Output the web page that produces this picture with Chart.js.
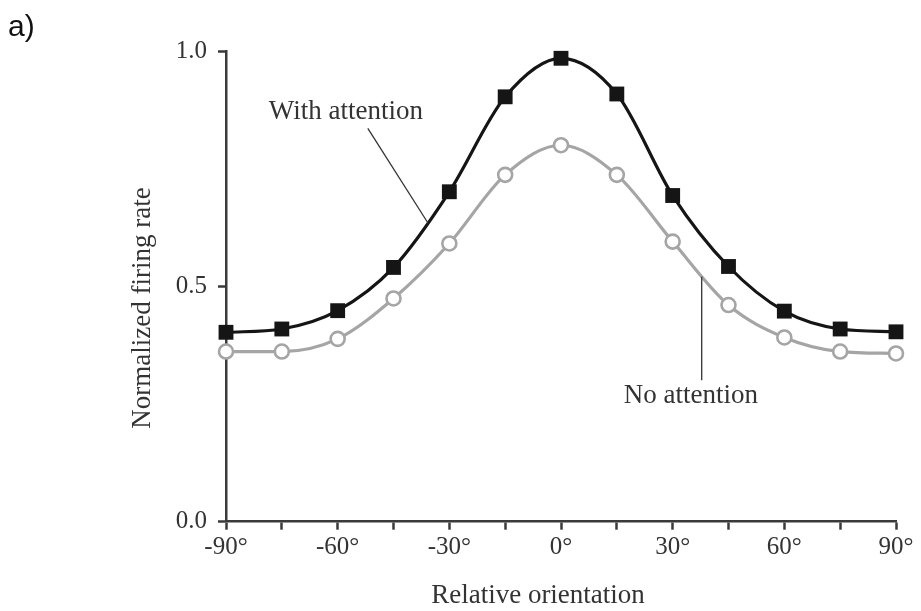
<!DOCTYPE html>
<html>
<head>
<meta charset="utf-8">
<script src="https://cdn.jsdelivr.net/npm/chart.js@4.4.1/dist/chart.umd.min.js"></script>
<style>
  html, body { margin: 0; padding: 0; background: #fff; }
  #chart { display: block; }
</style>
</head>
<body>
<canvas id="chart" width="921" height="611"></canvas>
<script>
// --- data ---
const orientations = [-90, -75, -60, -45, -30, -15, 0, 15, 30, 45, 60, 75, 90];
const withAttention = [0.403, 0.410, 0.449, 0.541, 0.702, 0.904, 0.986, 0.910, 0.694, 0.543, 0.448, 0.410, 0.404];
const noAttention = [0.362, 0.362, 0.389, 0.475, 0.592, 0.738, 0.801, 0.738, 0.596, 0.461, 0.392, 0.362, 0.358];
const yTicks = [0, 0.5, 1.0];
const xLabelEvery = 30;

const SERIF = '"Liberation Serif", "Times New Roman", serif';
const INK = '#333';

// callout labels, placed in data units
const callouts = [
    { text: 'With attention', at: [-57.8, 0.872], line: [[-51.9, 0.837], [-35.7, 0.635]] },
    { text: 'No attention', at: [34.9, 0.268], line: [[37.8, 0.521], [37.8, 0.301]] }
];

const overlay = {
    id: 'overlay',
    afterDraw(chart) {
        const { ctx, scales } = chart;
        const sx = scales.x, sy = scales.y;
        ctx.save();

        // callouts
        ctx.font = '27px ' + SERIF;
        ctx.fillStyle = INK;
        ctx.textAlign = 'center';
        ctx.textBaseline = 'middle';
        callouts.forEach(c => {
            ctx.fillText(c.text, sx.getPixelForValue(c.at[0]), sy.getPixelForValue(c.at[1]));
            ctx.beginPath();
            ctx.strokeStyle = INK;
            ctx.lineWidth = 1.3;
            ctx.moveTo(sx.getPixelForValue(c.line[0][0]), sy.getPixelForValue(c.line[0][1]));
            ctx.lineTo(sx.getPixelForValue(c.line[1][0]), sy.getPixelForValue(c.line[1][1]));
            ctx.stroke();
        });

        // axis titles
        ctx.fillText('Relative orientation', 538, 596);
        ctx.save();
        ctx.translate(143, 308);
        ctx.rotate(-Math.PI / 2);
        ctx.fillText('Normalized firing rate', 0, 0);
        ctx.restore();

        // panel label
        ctx.font = '30px "Liberation Sans", Arial, sans-serif';
        ctx.fillStyle = '#111';
        ctx.textAlign = 'left';
        ctx.textBaseline = 'alphabetic';
        ctx.fillText('a)', 8, 36);

        ctx.restore();
    }
};

const ctx = document.getElementById('chart').getContext('2d');

new Chart(ctx, {
    type: 'line',
    data: {
        datasets: [
            {
                label: 'No attention',
                data: orientations.map((x, i) => ({ x: x, y: noAttention[i] })),
                borderColor: '#a5a5a5',
                borderWidth: 3.2,
                pointStyle: 'circle',
                pointRadius: 7,
                pointBorderWidth: 2.6,
                pointBackgroundColor: '#fff',
                pointBorderColor: '#a5a5a5',
                cubicInterpolationMode: 'monotone',
                clip: false
            },
            {
                label: 'With attention',
                data: orientations.map((x, i) => ({ x: x, y: withAttention[i] })),
                borderColor: '#151515',
                borderWidth: 3.2,
                pointStyle: 'rect',
                pointRadius: 10.5,
                pointBorderWidth: 0,
                pointBackgroundColor: '#151515',
                pointBorderColor: '#151515',
                cubicInterpolationMode: 'monotone',
                clip: false
            }
        ]
    },
    options: {
        responsive: false,
        animation: false,
        devicePixelRatio: 1,
        layout: {
            padding: { top: 51.7, right: 25, left: 0, bottom: 0 }
        },
        plugins: {
            legend: { display: false },
            tooltip: { enabled: false }
        },
        scales: {
            x: {
                type: 'linear',
                min: -90,
                max: 90,
                afterFit(scale) { scale.height = 611 - 521.7; },
                afterBuildTicks(scale) {
                    scale.ticks = orientations.map(v => ({ value: v }));
                },
                ticks: {
                    autoSkip: false,
                    maxRotation: 0,
                    padding: 3,
                    color: INK,
                    font: { family: SERIF, size: 25 },
                    callback: v => (v % xLabelEvery === 0 ? v + '°' : '')
                },
                grid: {
                    drawOnChartArea: false,
                    drawTicks: true,
                    tickLength: 8,
                    tickWidth: 2.5,
                    tickColor: '#3a3a3a'
                },
                border: { display: true, color: '#3a3a3a', width: 2.5 }
            },
            y: {
                type: 'linear',
                min: 0,
                max: 1,
                afterFit(scale) { scale.width = 226; },
                afterBuildTicks(scale) {
                    scale.ticks = yTicks.map(v => ({ value: v }));
                },
                ticks: {
                    padding: 11,
                    color: INK,
                    font: { family: SERIF, size: 25 },
                    callback: v => v.toFixed(1)
                },
                grid: {
                    drawOnChartArea: false,
                    drawTicks: true,
                    tickLength: 8,
                    tickWidth: 2.5,
                    tickColor: '#3a3a3a'
                },
                border: { display: true, color: '#3a3a3a', width: 2.5 }
            }
        }
    },
    plugins: [overlay]
});
</script>
</body>
</html>
